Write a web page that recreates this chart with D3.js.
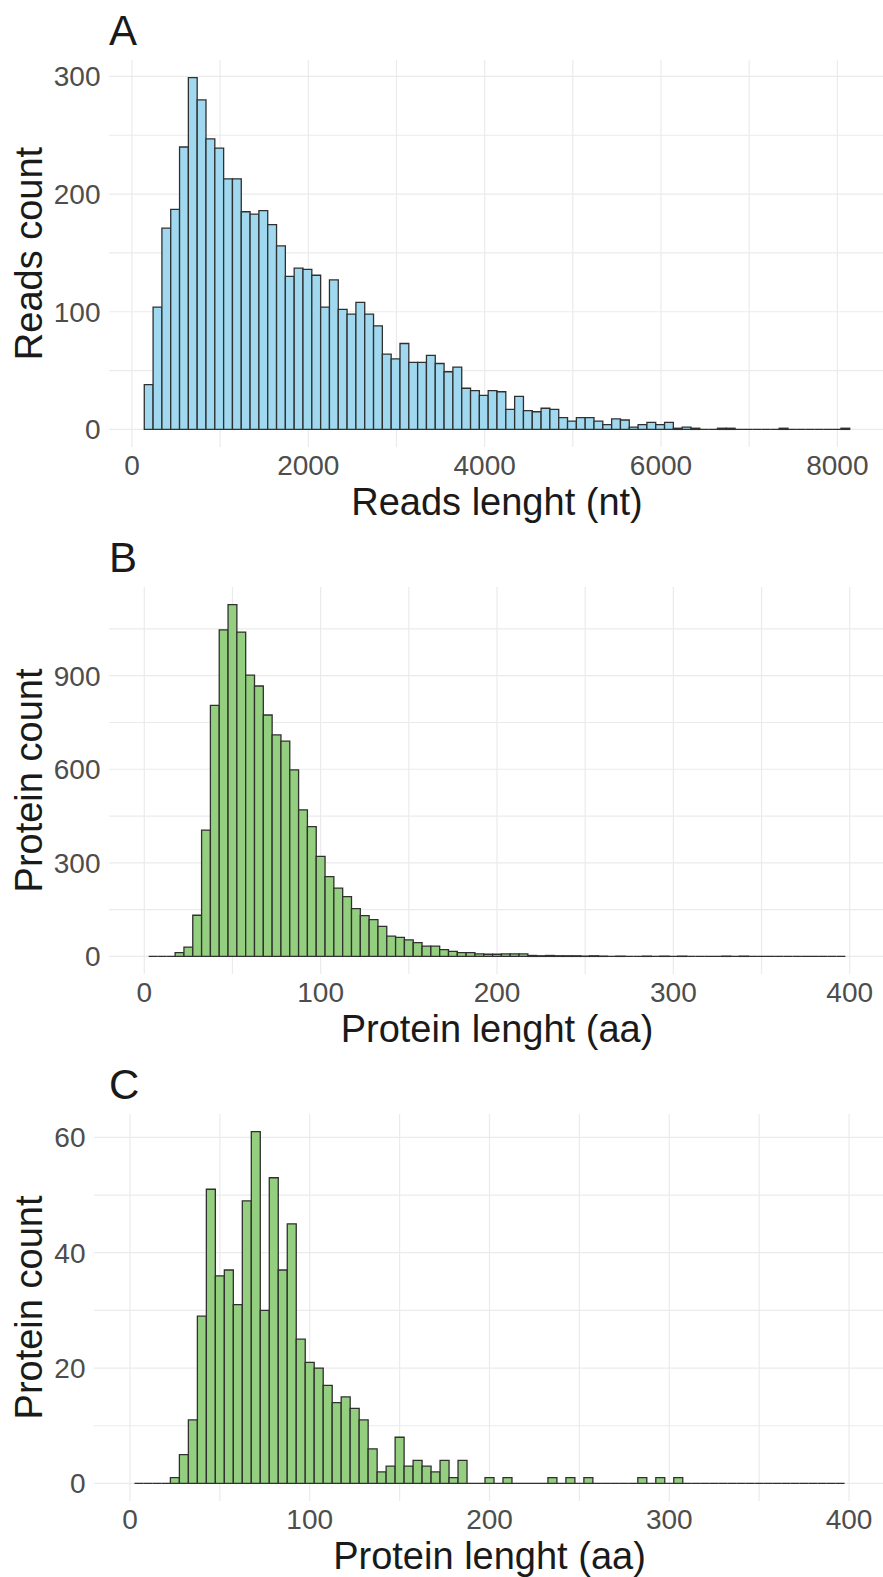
<!DOCTYPE html>
<html>
<head>
<meta charset="utf-8">
<script src="https://cdn.jsdelivr.net/npm/d3@7"></script>
<style>
  body { margin: 0; background: #fff; }
  svg { display: block; font-family: 'Liberation Sans', Arial, sans-serif; }
  .grid line { stroke: #ebebeb; stroke-width: 1.2; }
  .tick-label { fill: #4d4d4d; font-size: 28px; }
  .axis-title { fill: #1a1a1a; font-size: 38px; }
  .panel-tag { fill: #1a1a1a; font-size: 42px; }
  .bars path { stroke: #303030; stroke-width: 1.3; }
</style>
</head>
<body>
<svg id="chart" width="883" height="1577"></svg>
<script>
// A: read lengths, 100 nt bins starting at 140 nt
const readBinStart = 140;
const readBinWidth = 100;
const readCounts = [
  38, 104, 171, 187, 240, 299, 280, 247, 239, 213, 213, 185, 183, 186, 174, 156, 130, 137, 136, 131,
  104, 127, 102, 98, 108, 98, 88, 64, 60, 73, 57, 57, 63, 56, 49, 53, 35, 33, 29, 33,
  32, 17, 28, 16, 15, 18, 17, 10, 7, 10, 10, 7, 4, 9, 8, 2, 4, 6, 4, 6,
  1, 2, 1, 0, 0, 1, 1, 0, 0, 0, 0, 0, 1, 0, 0, 0, 0, 0, 0, 1
];

// B and C: protein lengths, 5 aa bins centred on 5, 10 ... 395
const proteinBinStart = 2.5;
const proteinBinWidth = 5;
const proteinCountsB = [
  0, 0, 0, 12, 30, 132, 405, 805, 1047, 1128, 1040, 902, 867, 774, 710, 690, 598, 470, 416, 321,
  256, 219, 192, 153, 131, 118, 96, 65, 61, 53, 44, 33, 33, 22, 16, 12, 12, 8, 7, 7,
  8, 8, 8, 3, 2, 3, 2, 2, 2, 1, 2, 1, 0, 1, 0, 0, 1, 0, 1, 0,
  1, 0, 0, 0, 0, 1, 0, 1, 0, 0, 0, 0, 0, 0, 0, 0, 0, 0, 0
];
const proteinCountsC = [
  0, 0, 0, 0, 1, 5, 11, 29, 51, 36, 37, 31, 49, 61, 30, 53, 37, 45, 25, 21,
  20, 17, 14, 15, 13, 11, 6, 2, 3, 8, 3, 4, 3, 2, 4, 1, 4, 0, 0, 1,
  0, 1, 0, 0, 0, 0, 1, 0, 1, 0, 1, 0, 0, 0, 0, 0, 1, 0, 1, 0,
  1, 0, 0, 0, 0, 0, 0, 0, 0, 0, 0, 0, 0, 0, 0, 0, 0, 0, 0
];
const proteinLimits = [0, 400];

const readLengthTicks = [0, 2000, 4000, 6000, 8000];
const proteinLengthTicks = [0, 100, 200, 300, 400];
const readCountTicks = [0, 100, 200, 300];
const proteinCountTicksB = [0, 300, 600, 900];
const proteinCountTicksC = [0, 20, 40, 60];

const BLUE = '#9fd8ef';
const GREEN = '#93cf7f';

const svg = d3.select('#chart');

const minorOf = (ticks, domain) => {
  const half = (ticks[1] - ticks[0]) / 2;
  return d3.range(Math.ceil(domain[0] / half) * half, domain[1], half)
    .filter(v => !ticks.includes(v));
};

const drawHistogram = cfg => {
  const { box, counts, binStart, binWidth, limits, fill } = cfg;
  const g = svg.append('g');

  const lo = limits ? limits[0] : binStart;
  const hi = limits ? limits[1] : binStart + counts.length * binWidth;
  const ymax = d3.max(counts);

  const x = d3.scaleLinear()
    .domain([lo - 0.05 * (hi - lo), hi + 0.05 * (hi - lo)])
    .range([box.left, box.right]);
  const y = d3.scaleLinear()
    .domain([-0.05 * ymax, 1.05 * ymax])
    .range([box.bottom, box.top]);

  // grid: minor then major
  const grid = g.append('g').attr('class', 'grid');
  const xLines = minorOf(cfg.xTicks, x.domain()).concat(cfg.xTicks);
  const yLines = minorOf(cfg.yTicks, y.domain()).concat(cfg.yTicks);
  grid.selectAll('.gx').data(xLines).enter().append('line')
    .attr('x1', d => x(d)).attr('x2', d => x(d))
    .attr('y1', box.top).attr('y2', box.bottom);
  grid.selectAll('.gy').data(yLines).enter().append('line')
    .attr('x1', box.left).attr('x2', box.right)
    .attr('y1', d => y(d)).attr('y2', d => y(d));

  // bars (zero bins still show their outline on the baseline)
  g.append('g').attr('class', 'bars')
    .selectAll('path')
    .data(counts)
    .enter()
    .append('path')
    .attr('fill', fill)
    .attr('d', (d, i) => {
      const x0 = x(binStart + i * binWidth), x1 = x(binStart + (i + 1) * binWidth);
      return 'M' + x0 + ',' + y(0) + 'H' + x1 + 'V' + y(d) + 'H' + x0 + 'Z';
    });

  // tick labels
  g.selectAll('.xt').data(cfg.xTicks).enter().append('text')
    .attr('class', 'tick-label')
    .attr('x', d => x(d)).attr('y', box.bottom + 28)
    .attr('text-anchor', 'middle')
    .text(d => d);
  g.selectAll('.yt').data(cfg.yTicks).enter().append('text')
    .attr('class', 'tick-label')
    .attr('x', box.left - 8.5).attr('y', d => y(d) + 10)
    .attr('text-anchor', 'end')
    .text(d => d);

  // titles
  g.append('text').attr('class', 'axis-title')
    .attr('x', (box.left + box.right) / 2).attr('y', box.bottom + 68)
    .attr('text-anchor', 'middle')
    .text(cfg.xTitle);
  g.append('text').attr('class', 'axis-title')
    .attr('transform', 'translate(42,' + (box.top + box.bottom) / 2 + ') rotate(-90)')
    .attr('text-anchor', 'middle')
    .text(cfg.yTitle);
  g.append('text').attr('class', 'panel-tag')
    .attr('x', 109).attr('y', box.top - 15)
    .text(cfg.tag);
};

drawHistogram({
  tag: 'A',
  box: { left: 109, right: 885, top: 60, bottom: 447 },
  counts: readCounts, binStart: readBinStart, binWidth: readBinWidth,
  xTicks: readLengthTicks, yTicks: readCountTicks,
  xTitle: 'Reads lenght (nt)', yTitle: 'Reads count', fill: BLUE
});
drawHistogram({
  tag: 'B',
  box: { left: 109, right: 885, top: 587, bottom: 974 },
  counts: proteinCountsB, binStart: proteinBinStart, binWidth: proteinBinWidth, limits: proteinLimits,
  xTicks: proteinLengthTicks, yTicks: proteinCountTicksB,
  xTitle: 'Protein lenght (aa)', yTitle: 'Protein count', fill: GREEN
});
drawHistogram({
  tag: 'C',
  box: { left: 94, right: 885, top: 1114, bottom: 1501 },
  counts: proteinCountsC, binStart: proteinBinStart, binWidth: proteinBinWidth, limits: proteinLimits,
  xTicks: proteinLengthTicks, yTicks: proteinCountTicksC,
  xTitle: 'Protein lenght (aa)', yTitle: 'Protein count', fill: GREEN
});
</script>
</body>
</html>
